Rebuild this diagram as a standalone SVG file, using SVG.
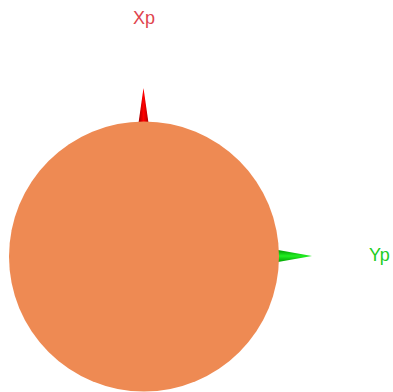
<svg xmlns="http://www.w3.org/2000/svg" width="393" height="392" viewBox="0 0 393 392">
<style>
.lbl{font-family:"Liberation Sans",Arial,sans-serif;font-size:18px}
</style>
<defs>
<linearGradient id="gr" x1="0" y1="0" x2="1" y2="0">
<stop offset="0" stop-color="#a00000"/><stop offset="0.5" stop-color="#ff0000"/><stop offset="1" stop-color="#b00000"/>
</linearGradient>
<linearGradient id="gg" x1="0" y1="0" x2="0" y2="1">
<stop offset="0" stop-color="#009900"/><stop offset="0.5" stop-color="#22ee22"/><stop offset="1" stop-color="#00a000"/>
</linearGradient>
</defs>
<g id="axes">
<polygon points="138.5,123 143.5,88 148.5,123" fill="url(#gr)"/>
<polygon points="278,250 312,256 278,262" fill="url(#gg)"/>
</g>
<g id="sphere">
<circle cx="144" cy="256.5" r="135" fill="#ee8a53"/>
</g>
<g id="labels">
<text class="lbl" x="133" y="24" fill="#e0444e">Xp</text>
<text class="lbl" x="369" y="261" fill="#22cc22">Yp</text>
</g>
</svg>
